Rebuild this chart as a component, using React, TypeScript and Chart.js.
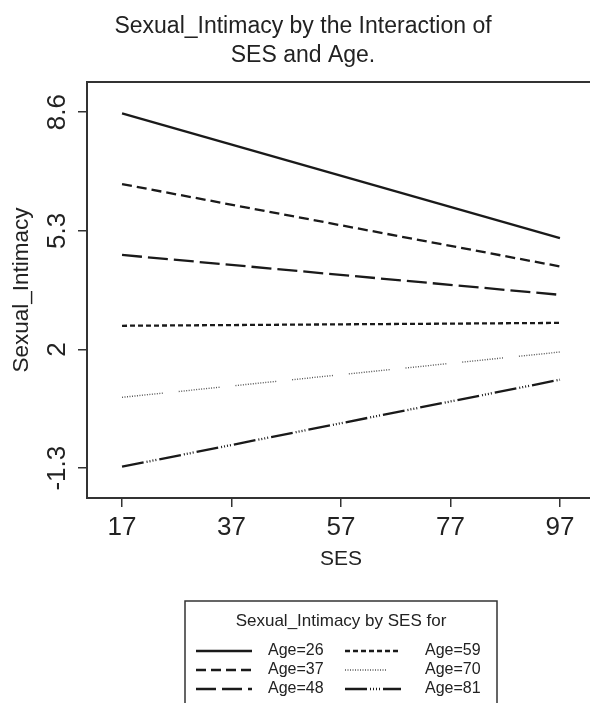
import React, { useEffect, useRef } from "react";
import { Chart, registerables } from "chart.js";

Chart.register(...registerables);

const titleLines = ["Sexual_Intimacy by the Interaction of", "SES and Age."];
const xTitle = "SES";
const yTitle = "Sexual_Intimacy";
const legendTitle = "Sexual_Intimacy by SES for";

const sesValues = [17, 97];
const xTickValues = [17, 37, 57, 77, 97];
const yTickValues = [-1.3, 2, 5.3, 8.6];

const ageLabels = ["Age=26", "Age=37", "Age=48", "Age=59", "Age=70", "Age=81"];
const age26 = [8.57, 5.1];
const age37 = [6.6, 4.31];
const age48 = [4.63, 3.52];
const age59 = [2.66, 2.74];
const age70 = [0.67, 1.93];
const age81 = [-1.26, 1.16];
const seriesValues = [age26, age37, age48, age59, age70, age81];

const FONT = "'Liberation Sans', Arial, Helvetica, sans-serif";
const INK = "#1a1a1a";

const dotRun: number[] = [];
for (let i = 0; i < 17; i++) dotRun.push(1, 1.5);
dotRun[dotRun.length - 1] = 16;

const dashes: number[][] = [
  [],
  [10, 5],
  [20, 6],
  [5, 3],
  dotRun,
  [22, 3, 1, 2, 1, 2, 1, 2, 1, 3],
];
const widths = [2.3, 2.3, 2.3, 2.3, 1.4, 2.3];
const colors = [INK, INK, INK, INK, "#555", INK];

const decorPlugin = {
  id: "decor",
  afterDraw(chart: any) {
    const { ctx, chartArea: ca } = chart;
    ctx.save();
    // plot frame
    ctx.strokeStyle = "#333";
    ctx.lineWidth = 2;
    ctx.setLineDash([]);
    ctx.strokeRect(ca.left, ca.top, ca.right - ca.left, ca.bottom - ca.top);

    ctx.fillStyle = "#222";
    // title
    ctx.font = `23px ${FONT}`;
    ctx.textAlign = "center";
    ctx.textBaseline = "alphabetic";
    ctx.fillText(titleLines[0], 303, 33);
    ctx.fillText(titleLines[1], 303, 62);

    // x title
    ctx.font = `21px ${FONT}`;
    ctx.fillText(xTitle, (ca.left + ca.right) / 2, 565);

    // y title
    ctx.save();
    ctx.translate(28, (ca.top + ca.bottom) / 2);
    ctx.rotate(-Math.PI / 2);
    ctx.font = `22.5px ${FONT}`;
    ctx.fillText(yTitle, 0, 0);
    ctx.restore();

    // legend
    const lx = 185, ly = 601, lw = 312, lh = 130;
    ctx.strokeStyle = "#333";
    ctx.lineWidth = 1.5;
    ctx.strokeRect(lx, ly, lw, lh);
    ctx.font = `17px ${FONT}`;
    ctx.textAlign = "center";
    ctx.textBaseline = "middle";
    ctx.fillText(legendTitle, lx + lw / 2, 621);

    const rowY = [651, 670, 689];
    const colLine = [196, 345];
    const lineLen = 56;
    const colText = [268, 425];
    ctx.font = `16px ${FONT}`;
    ctx.textAlign = "left";
    ageLabels.forEach((lab, i) => {
      const col = Math.floor(i / 3);
      const row = i % 3;
      const y = rowY[row];
      ctx.beginPath();
      ctx.strokeStyle = colors[i];
      ctx.lineWidth = widths[i];
      ctx.setLineDash(dashes[i]);
      ctx.moveTo(colLine[col], y);
      ctx.lineTo(colLine[col] + lineLen, y);
      ctx.stroke();
      ctx.setLineDash([]);
      ctx.fillStyle = "#222";
      ctx.fillText(lab, colText[col], y);
    });
    ctx.restore();
  },
};

export default function App() {
  const ref = useRef<HTMLCanvasElement | null>(null);

  useEffect(() => {
    if (!ref.current) return;
    const chart = new Chart(ref.current, {
      type: "line",
      data: {
        datasets: ageLabels.map((lab, i) => ({
          label: lab,
          data: sesValues.map((x, j) => ({ x, y: seriesValues[i][j] })),
          borderColor: colors[i],
          borderWidth: widths[i],
          borderDash: dashes[i],
          pointRadius: 0,
          fill: false,
          tension: 0,
        })),
      },
      options: {
        responsive: false,
        animation: false,
        events: [],
        layout: { padding: { left: 0, top: 82, right: 5, bottom: 0 } },
        plugins: {
          legend: { display: false },
          tooltip: { enabled: false },
          title: { display: false },
        },
        scales: {
          x: {
            type: "linear",
            min: 10.6,
            max: 103.4,
            afterBuildTicks: (s: any) => {
              s.ticks = xTickValues.map((v) => ({ value: v }));
            },
            afterFit: (s: any) => {
              s.height = 205;
            },
            ticks: {
              font: { size: 26, family: FONT },
              color: "#222",
              padding: 5,
              autoSkip: false,
              maxRotation: 0,
              minRotation: 0,
              callback: (v: any) => String(v),
            },
            grid: {
              drawOnChartArea: false,
              drawTicks: true,
              tickLength: 9,
              color: "#333",
              lineWidth: 1.5,
            },
            border: { color: "#333", width: 2 },
          },
          y: {
            type: "linear",
            min: -2.13,
            max: 9.44,
            afterBuildTicks: (s: any) => {
              s.ticks = yTickValues.map((v) => ({ value: v }));
            },
            afterFit: (s: any) => {
              s.width = 87;
            },
            ticks: {
              font: { size: 26, family: FONT },
              color: "#222",
              padding: -2,
              autoSkip: false,
              minRotation: 90,
              maxRotation: 90,
              crossAlign: "center",
              callback: (v: any) => String(v),
            },
            grid: {
              drawOnChartArea: false,
              drawTicks: true,
              tickLength: 9,
              color: "#333",
              lineWidth: 1.5,
            },
            border: { color: "#333", width: 2 },
          },
        },
      },
      plugins: [decorPlugin],
    } as any);
    return () => chart.destroy();
  }, []);

  return (
    <div
      style={{
        position: "absolute",
        left: 0,
        top: 0,
        width: 590,
        height: 703,
        overflow: "hidden",
        background: "#fff",
      }}
    >
      <canvas ref={ref} width={600} height={703} style={{ display: "block" }} />
    </div>
  );
}
